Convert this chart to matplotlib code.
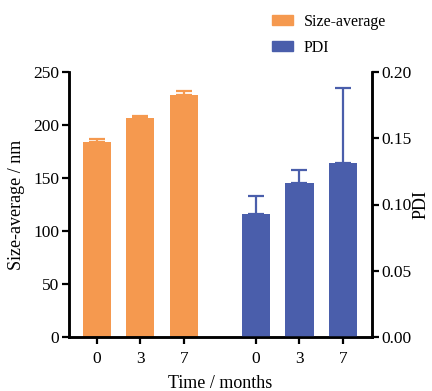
import matplotlib
matplotlib.use("Agg")
import matplotlib.pyplot as plt
from matplotlib.patches import Patch

plt.rcParams['font.family'] = ['Liberation Serif', 'DejaVu Serif']

# data
months = ['0', '3', '7']
size_avg = [183.6, 206.6, 228.0]
size_err = [2.8, 2.2, 3.7]
pdi = [0.0928, 0.1162, 0.1313]
pdi_err = [0.0133, 0.0098, 0.0567]

orange = '#F5994F'
blue = '#4A5EAB'

fig = plt.figure(figsize=(4.32, 3.91), dpi=100)
ax = fig.add_axes([69/432, 1 - 337/391, (372-69)/432, (337-72)/391])
ax2 = ax.twinx()

x_size = [0, 1, 2]
x_pdi = [3.66, 4.66, 5.66]
w = 0.65

ax.bar(x_size, size_avg, width=w, color=orange,
       yerr=[[0]*3, size_err], error_kw=dict(ecolor=orange, capsize=6, elinewidth=1.6, capthick=1.6))
ax2.bar(x_pdi, pdi, width=w, color=blue,
        yerr=[[0]*3, pdi_err], error_kw=dict(ecolor=blue, capsize=6, elinewidth=1.6, capthick=1.6))

ax.set_xlim(-0.64, 6.33)
ax.set_ylim(0, 250)
ax2.set_ylim(0, 0.20)
ax.set_yticks([0, 50, 100, 150, 200, 250])
ax2.set_yticks([0, 0.05, 0.10, 0.15, 0.20])
ax2.set_yticklabels(['0.00', '0.05', '0.10', '0.15', '0.20'])
ax.set_xticks(x_size + x_pdi)
ax.set_xticklabels(months + months)

for a in (ax, ax2):
    a.spines['top'].set_visible(False)
    for s in ('left', 'right', 'bottom'):
        a.spines[s].set_linewidth(1.8)
    a.tick_params(width=1.6, length=5, labelsize=12.5, direction='out', pad=2)
ax.tick_params(axis='x', pad=5)

ax.set_ylabel('Size-average / nm', fontsize=13)
ax.yaxis.set_label_coords(-0.145, 0.5)
ax2.set_ylabel('PDI', fontsize=13)
ax2.yaxis.set_label_coords(1.135, 0.5)
ax.set_xlabel('Time / months', fontsize=13, labelpad=6)

handles = [Patch(color=orange, label='Size-average'), Patch(color=blue, label='PDI')]
fig.legend(handles=handles, loc='upper left', bbox_to_anchor=(272/432, 1 - 14/391),
           frameon=False, fontsize=11.5, handlelength=1.3, handleheight=0.56,
           labelspacing=0.6, handletextpad=0.7, borderpad=0, borderaxespad=0)

fig.savefig('out.png', dpi=100)
